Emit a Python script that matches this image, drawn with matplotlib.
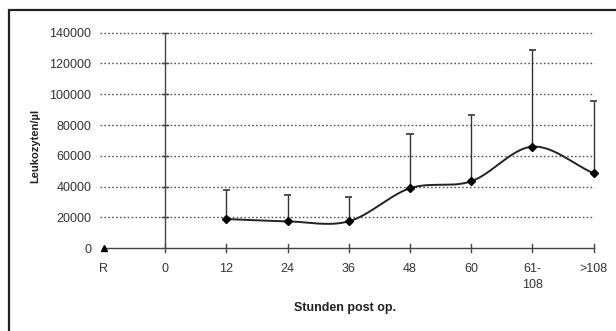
import matplotlib.pyplot as plt
import numpy as np
from matplotlib.patches import Rectangle

plt.rcParams["font.family"] = ["Liberation Sans", "DejaVu Sans"]

categories = ["R", "0", "12", "24", "36", "48", "60", "61-\n108", ">108"]
leuko_mean = [19000, 17500, 17500, 39000, 43500, 66000, 48700]
leuko_upper = [38000, 34500, 33500, 74500, 86500, 128500, 95500]
baseline_r = 0
y_ticks = [0, 20000, 40000, 60000, 80000, 100000, 120000, 140000]


def catmull_rom(xs, ys, n=30):
    # smoothed line like the spreadsheet's "smoothed line" option
    px = np.concatenate([[2 * xs[0] - xs[1]], xs, [2 * xs[-1] - xs[-2]]])
    py = np.concatenate([[2 * ys[0] - ys[1]], ys, [2 * ys[-1] - ys[-2]]])
    out_x, out_y = [], []
    t = np.linspace(0, 1, n)
    for i in range(1, len(px) - 2):
        for p, o in ((px, out_x), (py, out_y)):
            p0, p1, p2, p3 = p[i - 1], p[i], p[i + 1], p[i + 2]
            o.extend(0.5 * (2 * p1 + (-p0 + p2) * t
                            + (2 * p0 - 5 * p1 + 4 * p2 - p3) * t ** 2
                            + (-p0 + 3 * p1 - 3 * p2 + p3) * t ** 3))
    return np.array(out_x), np.array(out_y)


fig = plt.figure(figsize=(6.16, 3.31), dpi=100)
fig.patches.append(Rectangle((9 / 616, -0.1), 1.2, (331 - 10) / 331 + 0.1,
                             transform=fig.transFigure, fill=False,
                             edgecolor="#222222", linewidth=1.6))

W, H = 616, 331
ax = fig.add_axes([94.8 / W, (331 - 260.6) / H, 508 / W, (260.6 - 25) / H])
ax.set_xlim(-0.15, 8.15)
ax.set_ylim(-8000, 145000)
for s in ax.spines.values():
    s.set_visible(False)

# gridlines
for yv in y_ticks[1:]:
    ax.plot([-0.07, 8], [yv, yv], color="#555555", linestyle=(0, (1.2, 1.6)),
            linewidth=1.0, zorder=1)

# axes lines
ax.plot([0, 8], [0, 0], color="#444444", linewidth=1.0, zorder=2)
ax.plot([1, 1], [0, 140000], color="#444444", linewidth=1.0, zorder=2)
dx = 0.05
for yv in y_ticks[1:]:
    ax.plot([1 - dx, 1 + dx], [yv, yv], color="#444444", linewidth=1.0, zorder=2)
for xi in range(1, 9):
    ax.plot([xi, xi], [-2600, 2600], color="#444444", linewidth=1.0, zorder=2)

xs = np.arange(2, 9)
means = np.array(leuko_mean, dtype=float)
uppers = np.array(leuko_upper, dtype=float)

sx, sy = catmull_rom(xs.astype(float), means)
ax.plot(sx, sy, color="#222222", linewidth=1.4, zorder=3)

ax.vlines(xs, means, uppers, color="#333333", linewidth=1.0, zorder=3)
ax.hlines(uppers, xs - 0.06, xs + 0.06, color="#333333", linewidth=1.2, zorder=3)

ax.plot(xs, means, linestyle="none", marker="D", markersize=4.5,
        color="black", zorder=4)
ax.plot([0], [baseline_r], linestyle="none", marker="^", markersize=5,
        color="black", zorder=4)

ax.set_yticks(y_ticks)
ax.set_yticklabels([str(v) for v in y_ticks], fontsize=9, color="#333333")
ax.set_xticks(range(len(categories)))
ax.set_xticklabels(categories, fontsize=9, color="#333333", linespacing=1.5)
ax.tick_params(axis="both", length=0)
ax.tick_params(axis="y", pad=2.5)
ax.tick_params(axis="x", pad=1.5)

fig.text(345 / W, 1 - 308 / H, "Stunden post op.", fontsize=9,
         fontweight="bold", ha="center", va="center", color="#222222")
fig.text(35 / W, 1 - 146 / H, "Leukozyten/µl", fontsize=8, fontweight="bold",
         rotation=90, ha="center", va="center", color="#222222")

fig.savefig("out.png", dpi=100, facecolor="white")
